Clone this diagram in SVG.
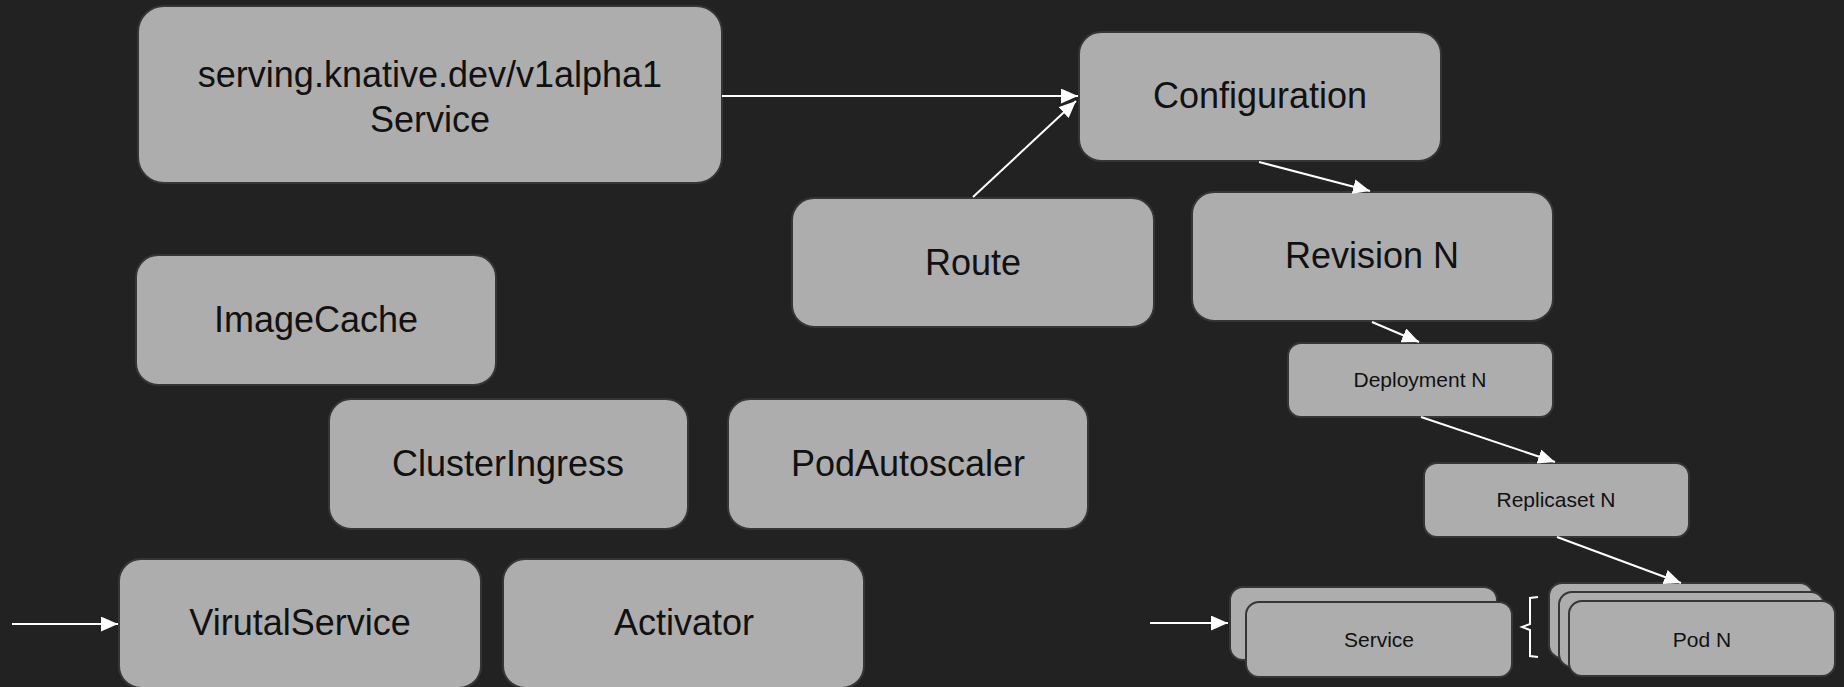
<svg xmlns="http://www.w3.org/2000/svg" width="1844" height="687" viewBox="0 0 1844 687">
  <style>
    .box { fill: #adadad; stroke: #363636; stroke-width: 2; }
    .lbl { font-family: "Liberation Sans", Arial, sans-serif; font-size: 36px; fill: #111; text-anchor: middle; }
    .sm { font-family: "Liberation Sans", Arial, sans-serif; font-size: 21px; fill: #111; text-anchor: middle; }
    .edge { stroke: #ffffff; stroke-width: 2; fill: none; marker-end: url(#arrow); }
  </style>
  <defs>
    <marker id="arrow" viewBox="0 0 16 14" refX="16" refY="7" markerWidth="17" markerHeight="15" markerUnits="userSpaceOnUse" orient="auto">
      <path d="M0,0 L16,7 L0,14 z" fill="#ffffff"/>
    </marker>
  </defs>
  <rect width="1844" height="687" fill="#222222"/>

  <g id="knative-service">
    <rect class="box" x="138" y="6" width="584" height="177" rx="26"/>
    <text class="lbl" x="430" y="87">serving.knative.dev/v1alpha1</text>
    <text class="lbl" x="430" y="132">Service</text>
  </g>
  <g id="configuration">
    <rect class="box" x="1079" y="32" width="362" height="129" rx="22"/>
    <text class="lbl" x="1260" y="108">Configuration</text>
  </g>
  <g id="route">
    <rect class="box" x="792" y="198" width="362" height="129" rx="22"/>
    <text class="lbl" x="973" y="275">Route</text>
  </g>
  <g id="revision">
    <rect class="box" x="1192" y="192" width="361" height="129" rx="22"/>
    <text class="lbl" x="1372" y="268">Revision N</text>
  </g>
  <g id="image-cache">
    <rect class="box" x="136" y="255" width="360" height="130" rx="22"/>
    <text class="lbl" x="316" y="332">ImageCache</text>
  </g>
  <g id="cluster-ingress">
    <rect class="box" x="329" y="399" width="359" height="130" rx="22"/>
    <text class="lbl" x="508" y="476">ClusterIngress</text>
  </g>
  <g id="pod-autoscaler">
    <rect class="box" x="728" y="399" width="360" height="130" rx="22"/>
    <text class="lbl" x="908" y="476">PodAutoscaler</text>
  </g>
  <g id="virtual-service">
    <rect class="box" x="119" y="559" width="362" height="129" rx="22"/>
    <text class="lbl" x="300" y="635">VirutalService</text>
  </g>
  <g id="activator">
    <rect class="box" x="503" y="559" width="361" height="129" rx="22"/>
    <text class="lbl" x="684" y="635">Activator</text>
  </g>
  <g id="deployment">
    <rect class="box" x="1288" y="343" width="265" height="74" rx="13"/>
    <text class="sm" x="1420" y="387">Deployment N</text>
  </g>
  <g id="replicaset">
    <rect class="box" x="1424" y="463" width="265" height="74" rx="13"/>
    <text class="sm" x="1556" y="507">Replicaset N</text>
  </g>
  <g id="k8s-service">
    <rect class="box" x="1230" y="587" width="267" height="73" rx="13"/>
    <rect class="box" x="1246" y="602" width="266" height="75" rx="13"/>
    <text class="sm" x="1379" y="647">Service</text>
  </g>
  <g id="pods">
    <rect class="box" x="1549" y="583" width="264" height="75" rx="13"/>
    <rect class="box" x="1559" y="592" width="265" height="75" rx="13"/>
    <rect class="box" x="1569" y="601" width="266" height="75" rx="13"/>
    <text class="sm" x="1702" y="647">Pod N</text>
  </g>

  <g id="connectors">
    <line class="edge" x1="722" y1="96" x2="1078" y2="96"/>
    <line class="edge" x1="973" y1="197" x2="1076" y2="101"/>
    <line class="edge" x1="1259" y1="162" x2="1370" y2="191"/>
    <line class="edge" x1="1372" y1="322" x2="1419" y2="342"/>
    <line class="edge" x1="1421" y1="417" x2="1555" y2="462"/>
    <line class="edge" x1="1557" y1="537" x2="1681" y2="583"/>
    <line class="edge" x1="12" y1="624" x2="118" y2="624"/>
    <line class="edge" x1="1150" y1="623" x2="1228" y2="623"/>
    <path d="M1538,597 L1530,598 L1530,624 L1522,627 L1530,630 L1530,656 L1538,657" stroke="#ffffff" stroke-width="2" fill="none"/>
  </g>
</svg>
